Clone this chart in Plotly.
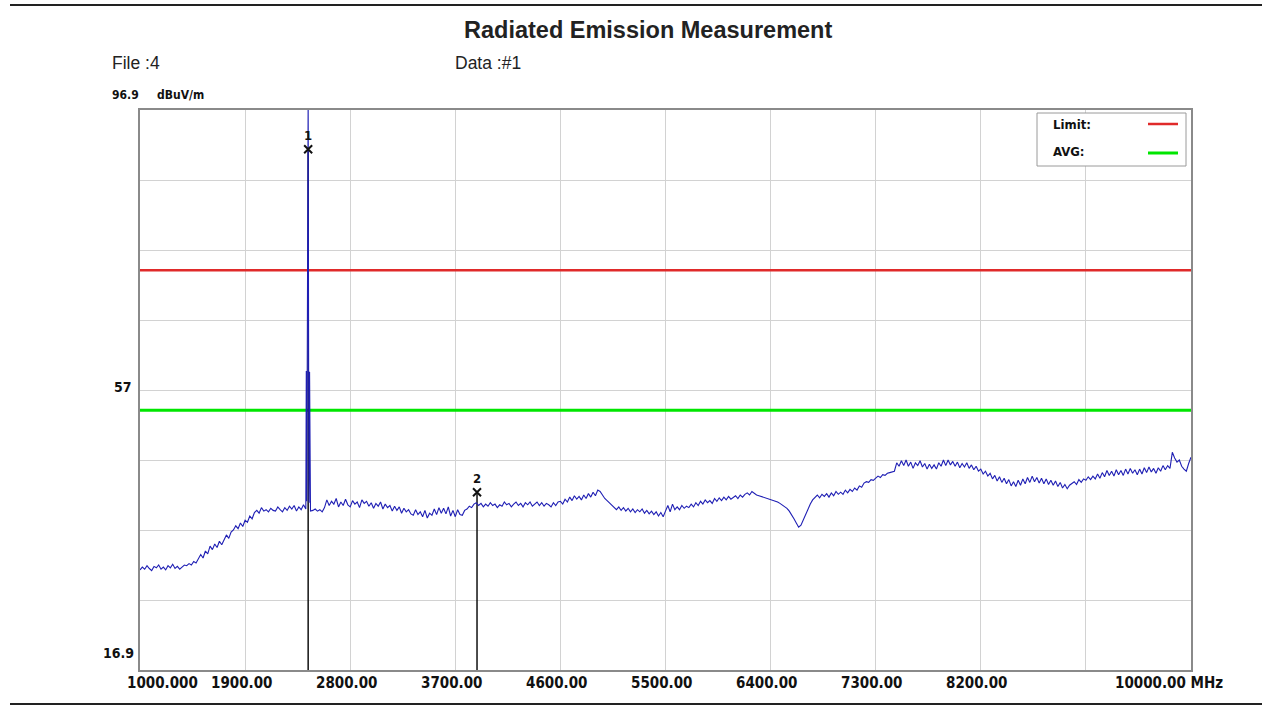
import numpy as np
import plotly.graph_objects as go

# Sweep: 1000 MHz to 10000 MHz, 20 MHz per bin, level in dBuV/m
sweep_start_mhz = 1000
sweep_step_mhz = 20
sweep_level = [
    31.2, 31.6, 31.3, 31.8, 31.4, 31.1, 31.7, 31.5, 31.9, 31.3,   # 1000
    31.6, 31.2, 31.8, 31.5, 32.0, 31.4, 31.7, 31.3, 31.6, 31.9,   # 1200
    31.8, 32.1, 31.9, 32.4, 32.2, 32.8, 33.4, 32.9, 33.9, 33.5,   # 1400
    34.6, 34.1, 34.9, 34.4, 35.3, 34.8, 35.6, 36.2, 35.7, 36.6,   # 1600
    36.9, 37.5, 37.1, 37.9, 37.4, 38.3, 38.0, 38.9, 38.5, 39.4,   # 1800
    39.7, 39.3, 40.1, 39.6, 39.8, 39.5, 40.0, 39.7, 39.6, 40.2,   # 2000
    39.8, 39.5, 40.1, 39.7, 40.3, 39.9, 40.4, 39.6, 40.2, 39.8,   # 2200
    40.5, 39.9, 99.0, 39.6, 39.7, 39.9, 39.6, 39.8, 39.5, 40.1,   # 2400
    41.2, 40.4, 41.0, 40.6, 41.4, 40.2, 40.9, 40.4, 41.3, 40.5,   # 2600
    40.2, 41.1, 40.6, 40.9, 40.1, 41.2, 40.7, 41.0, 40.3, 40.8,   # 2800
    40.0, 40.7, 40.3, 40.9, 39.9, 40.6, 40.1, 40.4, 39.6, 40.3,   # 3000
    39.7, 40.2, 39.3, 40.0, 39.5, 39.8, 39.2, 39.0, 39.8, 39.1,   # 3200
    39.5, 38.8, 39.7, 38.6, 39.3, 39.0, 39.9, 39.1, 40.1, 39.3,   # 3400
    40.0, 39.2, 40.2, 38.9, 39.7, 38.8, 39.8, 39.1, 39.0, 39.7,   # 3600
    39.9, 40.3, 40.1, 40.6, 40.8, 40.4, 40.7, 40.2, 40.6, 40.3,   # 3800
    40.8, 40.4, 40.6, 40.1, 40.5, 40.3, 40.9, 40.5, 40.7, 40.2,   # 4000
    40.6, 40.9, 40.4, 40.7, 40.2, 40.8, 40.5, 40.9, 40.3, 40.6,   # 4200
    40.9, 40.4, 40.8, 40.3, 40.7, 40.5, 40.2, 40.8, 40.4, 40.9,   # 4400
    41.0, 40.6, 41.3, 40.9, 41.6, 41.1, 41.8, 41.3, 41.7, 41.2,   # 4600
    41.9, 41.4, 42.1, 41.6, 42.3, 41.8, 42.6, 42.4, 41.9, 41.4,   # 4800
    41.1, 40.8, 40.5, 40.1, 39.8, 40.2, 39.7, 40.1, 39.6, 40.0,   # 5000
    39.5, 39.9, 39.4, 39.8, 39.5, 39.9, 39.3, 39.7, 39.2, 39.6,   # 5200
    39.1, 39.5, 38.9, 39.4, 38.8, 39.6, 40.4, 39.5, 40.6, 39.8,   # 5400
    40.2, 39.8, 40.4, 40.0, 40.3, 40.1, 40.6, 40.2, 40.8, 40.4,   # 5600
    41.0, 40.6, 41.2, 40.8, 41.1, 40.7, 41.4, 41.0, 41.5, 41.1,   # 5800
    41.6, 41.2, 41.7, 41.3, 41.5, 41.8, 41.4, 41.9, 41.6, 42.0,   # 6000
    42.2, 41.9, 42.4, 42.1, 41.9, 41.8, 41.7, 41.6, 41.5, 41.4,   # 6200
    41.3, 41.1, 41.0, 40.9, 40.7, 40.5, 40.3, 40.0, 39.6, 39.1,   # 6400
    38.5, 37.9, 37.3, 37.6, 38.4, 39.1, 39.8, 40.6, 41.2, 41.6,   # 6600
    41.9, 41.5, 42.0, 41.7, 42.1, 41.6, 42.2, 41.8, 42.4, 42.0,   # 6800
    42.3, 42.0, 42.6, 42.2, 42.7, 42.4, 42.9, 42.6, 43.2, 43.0,   # 7000
    43.6, 43.8, 43.7, 44.1, 44.0, 44.3, 44.6, 44.4, 44.8, 44.7,   # 7200
    45.0, 45.1, 45.2, 45.3, 46.5, 46.0, 46.8, 46.1, 46.9, 46.0,   # 7400
    46.6, 45.7, 46.5, 46.1, 46.8, 45.9, 46.4, 45.6, 46.3, 45.7,   # 7600
    46.2, 45.6, 46.5, 46.0, 46.9, 46.1, 46.9, 46.2, 46.7, 46.0,   # 7800
    46.6, 45.8, 46.4, 45.9, 46.5, 45.7, 46.2, 45.5, 46.0, 45.3,   # 8000
    45.6, 44.9, 45.3, 44.6, 45.0, 44.2, 44.7, 43.9, 44.5, 43.7,   # 8200
    44.3, 43.5, 44.1, 43.2, 43.8, 43.1, 44.0, 43.3, 44.2, 43.5,   # 8400
    44.4, 43.7, 44.6, 43.8, 44.4, 43.6, 44.3, 43.5, 44.2, 43.4,   # 8600
    44.0, 43.3, 43.9, 43.1, 43.7, 42.9, 43.4, 42.8, 43.3, 43.6,   # 8800
    43.8, 43.4, 44.1, 43.7, 44.2, 44.0, 44.5, 44.1, 44.6, 44.2,   # 9000
    44.9, 44.3, 45.1, 44.5, 45.4, 44.7, 45.3, 44.6, 45.5, 44.8,   # 9200
    45.4, 44.7, 45.6, 44.9, 45.7, 45.0, 45.5, 44.8, 45.6, 44.9,   # 9400
    45.8, 45.1, 45.9, 45.2, 45.7, 45.0, 45.8, 45.3, 46.1, 45.5,   # 9600
    46.1, 45.7, 48.0, 47.2, 46.6, 46.9, 46.0, 45.6, 45.3, 46.4,   # 9800
    47.3,                                                         # 10000
]

# Extra samples around the 2440 MHz carrier
carrier_freq = [2424, 2428, 2432, 2436, 2444, 2448, 2452, 2456]
carrier_level = [59.6, 41.0, 59.7, 72.0, 59.8, 40.8, 59.5, 40.5]

# Limit lines
limit_level = 74.0
avg_level = 54.0

# Peak markers
marker_id = ["1", "2"]
marker_freq = [2440.0, 3886.0]
marker_level = [91.3, 42.3]

# Axis
y_min, y_max = 16.9, 96.9
x_min, x_max = 1000.0, 10000.0
x_grid = [1000, 1900, 2800, 3700, 4600, 5500, 6400, 7300, 8200, 9100, 10000]
x_tick_text = ["1000.000", "1900.00", "2800.00", "3700.00", "4600.00", "5500.00",
               "6400.00", "7300.00", "8200.00", "", "10000.00 MHz"]

sweep_freq = sweep_start_mhz + sweep_step_mhz * np.arange(len(sweep_level))
freq = np.concatenate([sweep_freq, carrier_freq])
level = np.concatenate([sweep_level, carrier_level])
order = np.argsort(freq, kind="stable")
freq, level = freq[order], level[order]

# Page geometry (pixels) and plot-area margins
W, H = 1265, 706
ML, MR, MT, MB = 140, 74, 110, 36
PW, PH = W - ML - MR, H - MT - MB


def px(x):
    """Page pixel column -> paper x."""
    return (x - ML) / PW


def py(y):
    """Page pixel row -> paper y."""
    return (H - MB - y) / PH


LABEL_FONT = "DejaVu Sans Condensed, Liberation Sans Narrow, Arial Narrow, sans-serif"
TEXT_FONT = "Liberation Sans, Arial, sans-serif"
INK = "#111111"

fig = go.Figure()

fig.add_trace(go.Scatter(x=[x_min, x_max], y=[limit_level, limit_level], mode="lines",
                         line=dict(color="#e02a2a", width=2.5), hoverinfo="skip"))
fig.add_trace(go.Scatter(x=[x_min, x_max], y=[avg_level, avg_level], mode="lines",
                         line=dict(color="#00e600", width=3), hoverinfo="skip"))

for f, lv in zip(marker_freq, marker_level):
    fig.add_trace(go.Scatter(x=[f, f], y=[y_min, lv], mode="lines",
                             line=dict(color=INK, width=1.5), hoverinfo="skip"))

fig.add_trace(go.Scatter(x=freq, y=level, mode="lines",
                         line=dict(color="#1f1fb4", width=1.1), name="Level"))

fig.add_trace(go.Scatter(x=marker_freq, y=marker_level, mode="markers+text",
                         text=marker_id, textposition="top center",
                         textfont=dict(family=LABEL_FONT, size=13, color=INK, weight="bold"),
                         marker=dict(symbol="x-thin", size=8, line=dict(color=INK, width=2)),
                         hoverinfo="skip"))

fig.update_layout(
    width=W, height=H, autosize=False,
    margin=dict(l=ML, r=MR, t=MT, b=MB),
    paper_bgcolor="white", plot_bgcolor="white",
    showlegend=False,
    xaxis=dict(range=[x_min, x_max], tickvals=x_grid, showticklabels=False,
               showgrid=True, gridcolor="#d2d2d2", gridwidth=1, zeroline=False,
               showline=True, linecolor="#8a8a8a", linewidth=2, mirror=True, ticks=""),
    yaxis=dict(range=[y_min, y_max], tick0=y_min, dtick=10, showticklabels=False,
               showgrid=True, gridcolor="#d2d2d2", gridwidth=1, zeroline=False,
               showline=True, linecolor="#8a8a8a", linewidth=2, mirror=True, ticks=""),
)

ann = []
# x-axis labels
for i, (v, t) in enumerate(zip(x_grid, x_tick_text)):
    if not t:
        continue
    if i == 0:
        anchor, shift = "left", -15
    elif i == len(x_grid) - 1:
        anchor, shift = "left", -78
    else:
        anchor, shift = "center", -4
    ann.append(dict(x=v, y=0, xref="x", yref="paper", text=t, showarrow=False,
                    xanchor=anchor, yanchor="top", xshift=shift, yshift=-2,
                    font=dict(family=LABEL_FONT, size=15, color=INK, weight="bold")))

# y-axis labels
ann.append(dict(x=0, y=57, xref="paper", yref="y", text="57", showarrow=False,
                xanchor="right", yanchor="middle", xshift=-6, yshift=2,
                font=dict(family=LABEL_FONT, size=14, color=INK, weight="bold")))
ann.append(dict(x=0, y=0, xref="paper", yref="paper", text="16.9", showarrow=False,
                xanchor="right", yanchor="bottom", xshift=-4, yshift=7,
                font=dict(family=LABEL_FONT, size=14, color=INK, weight="bold")))
ann.append(dict(x=px(110), y=py(95), xref="paper", yref="paper", text="96.9",
                showarrow=False, xanchor="left", yanchor="middle",
                font=dict(family=LABEL_FONT, size=12, color=INK, weight="bold")))
ann.append(dict(x=px(155), y=py(95), xref="paper", yref="paper", text="dBuV/m",
                showarrow=False, xanchor="left", yanchor="middle",
                font=dict(family=LABEL_FONT, size=12, color=INK, weight="bold")))

# header
ann.append(dict(x=px(648), y=py(30), xref="paper", yref="paper",
                text="<b>Radiated Emission Measurement</b>", showarrow=False,
                xanchor="center", yanchor="middle",
                font=dict(family=TEXT_FONT, size=23.5, color="#222222")))
ann.append(dict(x=px(110), y=py(63), xref="paper", yref="paper", text="File :4",
                showarrow=False, xanchor="left", yanchor="middle",
                font=dict(family=TEXT_FONT, size=17.5, color="#222222")))
ann.append(dict(x=px(453), y=py(63), xref="paper", yref="paper", text="Data :#1",
                showarrow=False, xanchor="left", yanchor="middle",
                font=dict(family=TEXT_FONT, size=17.5, color="#222222")))

# legend box (text on the left, line sample on the right)
lg_x0, lg_x1, lg_y0, lg_y1 = 1037, 1186, 113, 166
shapes = [
    dict(type="rect", xref="paper", yref="paper", layer="above",
         x0=px(lg_x0), x1=px(lg_x1), y0=py(lg_y1), y1=py(lg_y0),
         fillcolor="white", line=dict(color="#9a9a9a", width=1)),
    dict(type="line", xref="paper", yref="paper", layer="above",
         x0=px(1148), x1=px(1178), y0=py(124), y1=py(124),
         line=dict(color="#e02a2a", width=2.5)),
    dict(type="line", xref="paper", yref="paper", layer="above",
         x0=px(1148), x1=px(1178), y0=py(153), y1=py(153),
         line=dict(color="#00e600", width=3)),
    # page rules
    dict(type="line", xref="paper", yref="paper", x0=px(10), x1=px(1262),
         y0=py(5), y1=py(5), line=dict(color="#222222", width=2)),
    dict(type="line", xref="paper", yref="paper", x0=px(10), x1=px(1262),
         y0=py(704), y1=py(704), line=dict(color="#222222", width=2)),
]
ann.append(dict(x=px(1051), y=py(124), xref="paper", yref="paper", text="Limit:",
                showarrow=False, xanchor="left", yanchor="middle",
                font=dict(family=LABEL_FONT, size=13, color=INK, weight="bold")))
ann.append(dict(x=px(1051), y=py(152), xref="paper", yref="paper", text="AVG:",
                showarrow=False, xanchor="left", yanchor="middle",
                font=dict(family=LABEL_FONT, size=13, color=INK, weight="bold")))

fig.update_layout(annotations=ann, shapes=shapes)
fig.write_html("out.html")
